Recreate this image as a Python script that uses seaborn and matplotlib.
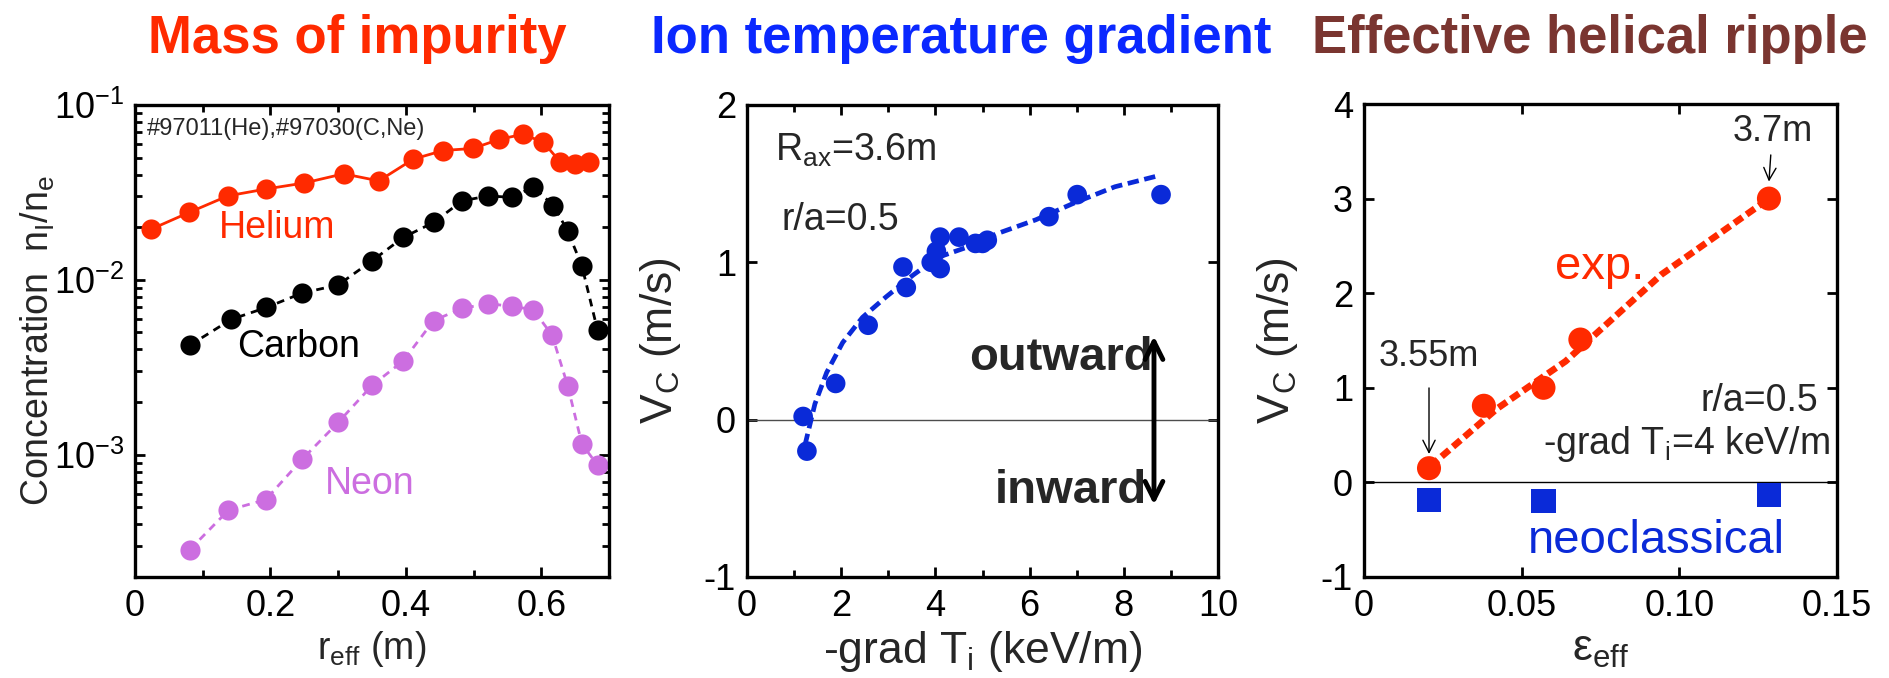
import matplotlib
matplotlib.use("Agg")
import matplotlib.pyplot as plt
import matplotlib.ticker as mticker
from matplotlib import font_manager
import numpy as np
import seaborn as sns

# -- Panel 1: impurity concentration profiles (log scale)
he_r = [0.024, 0.080, 0.137, 0.194, 0.250, 0.308, 0.360, 0.411, 0.455, 0.499,
        0.538, 0.573, 0.603, 0.628, 0.650, 0.671]
he_c = [0.0195, 0.0243, 0.0302, 0.0331, 0.0358, 0.0404, 0.0368, 0.0490, 0.0549,
        0.0564, 0.0636, 0.0680, 0.0612, 0.0472, 0.0458, 0.0470]
c_r = [0.081, 0.142, 0.194, 0.247, 0.300, 0.350, 0.396, 0.441, 0.483, 0.522,
       0.557, 0.588, 0.618, 0.639, 0.660, 0.683]
c_c = [0.00423, 0.00594, 0.00695, 0.00841, 0.00935, 0.01285, 0.01747, 0.0213,
       0.0283, 0.0302, 0.0296, 0.0340, 0.0266, 0.0190, 0.0120, 0.00516]
ne_r = [0.081, 0.138, 0.193, 0.247, 0.300, 0.350, 0.396, 0.441, 0.483, 0.522,
        0.557, 0.588, 0.616, 0.639, 0.660, 0.683]
ne_c = [2.87e-4, 4.82e-4, 5.54e-4, 9.44e-4, 1.53e-3, 2.49e-3, 3.44e-3, 5.85e-3,
        6.87e-3, 7.31e-3, 7.05e-3, 6.76e-3, 4.82e-3, 2.48e-3, 1.15e-3, 8.73e-4]

# -- Panel 2: V_C vs ion temperature gradient
gradti = [1.19, 1.27, 1.88, 2.57, 3.31, 3.38, 3.91, 4.02, 4.10, 4.10, 4.50,
          4.85, 5.00, 5.10, 6.41, 7.01, 8.79]
vc_grad = [0.02, -0.20, 0.23, 0.60, 0.97, 0.84, 1.00, 1.07, 1.16, 0.96, 1.16,
           1.12, 1.12, 1.14, 1.29, 1.43, 1.43]
fit_grad_x = [1.23, 1.44, 1.69, 2.03, 2.45, 2.95, 3.53, 4.04, 4.71, 5.29, 6.13,
              6.97, 7.81, 8.73]
fit_grad_y = [-0.16, 0.10, 0.30, 0.49, 0.65, 0.78, 0.92, 1.03, 1.10, 1.18, 1.27,
              1.38, 1.48, 1.55]

# -- Panel 3: V_C vs effective helical ripple
eps_exp = [0.0206, 0.0380, 0.0569, 0.0686, 0.1284]
vc_exp = [0.15, 0.81, 1.00, 1.51, 3.00]
fit_eps_x = [0.0210, 0.0422, 0.0639, 0.0944, 0.1280]
fit_eps_y = [0.17, 0.78, 1.28, 2.20, 2.99]
eps_neo = [0.0207, 0.0569, 0.1285]
vc_neo = [-0.19, -0.20, -0.13]

RED = "#ff2a00"
BLUE = "#0a2ad8"
VIOLET = "#cc6ee0"
BROWN = "#7a3530"

sns.set_theme(style="ticks")
plt.rcParams["font.family"] = ["Liberation Sans", "DejaVu Sans"]
plt.rcParams["mathtext.default"] = "regular"
plt.rcParams["axes.unicode_minus"] = False
plt.rcParams["axes.linewidth"] = 2.4
plt.rcParams["axes.edgecolor"] = "black"

# titles use a condensed bold face when one is available
installed = {f.name for f in font_manager.fontManager.ttflist}
if "Liberation Sans Narrow" in installed:
    title_font, title_size = ["Liberation Sans Narrow", "DejaVu Sans"], 44
else:
    title_font, title_size = ["Liberation Sans", "DejaVu Sans"], 38

fig = plt.figure(figsize=(18.89, 6.78), dpi=100)
ax1 = fig.add_axes([0.0715, 0.149, 0.2509, 0.6962])
ax2 = fig.add_axes([0.3955, 0.149, 0.2493, 0.6962])
ax3 = fig.add_axes([0.7221, 0.149, 0.2504, 0.6976])

for ax in (ax1, ax2, ax3):
    ax.tick_params(which="both", direction="in", top=True, right=True,
                   labelsize=26, colors="black", width=2)
    ax.tick_params(which="major", length=7)
    ax.tick_params(which="minor", length=5)
    ax.tick_params(axis="x", pad=9)
    ax.tick_params(axis="y", pad=8)

# ---- panel 1
ax1.set_yscale("log")
sns.lineplot(x=he_r, y=he_c, ax=ax1, color=RED, marker="o", markersize=14.5,
             markeredgewidth=0, lw=2, sort=False, estimator=None)
sns.lineplot(x=c_r, y=c_c, ax=ax1, color="black", marker="o", markersize=14.5,
             markeredgewidth=0, lw=2, linestyle=(0, (2.8, 2.2)), sort=False,
             estimator=None)
sns.lineplot(x=ne_r, y=ne_c, ax=ax1, color=VIOLET, marker="o", markersize=14.5,
             markeredgewidth=0, lw=2, linestyle=(0, (2.8, 2.2)), sort=False,
             estimator=None)
ax1.set_xlim(0, 0.7)
ax1.set_ylim(2e-4, 0.1)
ax1.xaxis.set_major_locator(mticker.FixedLocator([0, 0.2, 0.4, 0.6]))
ax1.xaxis.set_major_formatter(mticker.FixedFormatter(["0", "0.2", "0.4", "0.6"]))
ax1.xaxis.set_minor_locator(mticker.MultipleLocator(0.1))
ax1.yaxis.set_major_locator(mticker.FixedLocator([1e-3, 1e-2, 1e-1]))
ax1.yaxis.set_major_formatter(mticker.FuncFormatter(
    lambda v, p: r"10$^{\mathregular{%d}}$" % round(np.log10(v))))
ax1.yaxis.set_minor_locator(mticker.LogLocator(base=10, subs=np.arange(2, 10)))
ax1.yaxis.set_minor_formatter(mticker.NullFormatter())
ax1.set_xlabel(r"r$_{\mathregular{eff}}$ (m)", fontsize=27)
ax1.set_ylabel(r"Concentration  n$_{\mathregular{I}}$/n$_{\mathregular{e}}$", fontsize=27)
ax1.xaxis.set_label_coords(0.5, -0.11)
ax1.yaxis.set_label_coords(-0.165, 0.5)
ax1.text(0.025, 0.948, "#97011(He),#97030(C,Ne)", transform=ax1.transAxes,
         fontsize=17, ha="left", va="center")
ax1.text(0.1236, 0.0173, "Helium", color=RED, fontsize=27, ha="left", va="baseline")
ax1.text(0.151, 0.00362, "Carbon", color="black", fontsize=27, ha="left", va="baseline")
ax1.text(0.280, 6.0e-4, "Neon", color=VIOLET, fontsize=27, ha="left", va="baseline")

# ---- panel 2
ax2.axhline(0, color="0.3", lw=1, zorder=1)
sns.lineplot(x=fit_grad_x, y=fit_grad_y, ax=ax2, color=BLUE, lw=3.4,
             linestyle=(0, (2.4, 1.2)), sort=False, estimator=None)
sns.scatterplot(x=gradti, y=vc_grad, ax=ax2, color=BLUE, s=200,
                edgecolor="none", zorder=3)
ax2.set_xlim(0, 10)
ax2.set_ylim(-1, 2)
ax2.xaxis.set_major_locator(mticker.MultipleLocator(2))
ax2.xaxis.set_minor_locator(mticker.MultipleLocator(1))
ax2.yaxis.set_major_locator(mticker.MultipleLocator(1))
ax2.xaxis.set_major_formatter(mticker.FormatStrFormatter("%d"))
ax2.yaxis.set_major_formatter(mticker.FormatStrFormatter("%d"))
ax2.set_xlabel(r"-grad T$_{\mathregular{i}}$ (keV/m)", fontsize=32)
ax2.set_ylabel(r"V$_{\mathregular{C}}$ (m/s)", fontsize=32)
ax2.xaxis.set_label_coords(0.5, -0.11)
ax2.yaxis.set_label_coords(-0.136, 0.5)
ax2.text(0.60, 1.644, r"R$_{\mathregular{ax}}$=3.6m", fontsize=27, ha="left", va="baseline")
ax2.text(0.73, 1.205, "r/a=0.5", fontsize=27, ha="left", va="baseline")
ax2.text(4.71, 0.316, "outward", fontsize=34, fontweight="bold", ha="left", va="baseline")
ax2.text(5.25, -0.529, "inward", fontsize=34, fontweight="bold", ha="left", va="baseline")
ax2.annotate("", xy=(8.64, 0.53), xytext=(8.64, -0.54),
             arrowprops=dict(arrowstyle="<->", lw=3.5, color="black",
                             mutation_scale=32, shrinkA=0, shrinkB=0))

# ---- panel 3
ax3.axhline(0, color="black", lw=1, zorder=1)
sns.lineplot(x=fit_eps_x, y=fit_eps_y, ax=ax3, color=RED, lw=4.8,
             linestyle=(0, (1.5, 0.75)), sort=False, estimator=None)
sns.scatterplot(x=eps_exp, y=vc_exp, ax=ax3, color=RED, s=300,
                edgecolor="none", zorder=3)
sns.scatterplot(x=eps_neo, y=vc_neo, ax=ax3, color=BLUE, marker="s", s=300,
                edgecolor="none", zorder=3)
ax3.set_xlim(0, 0.15)
ax3.set_ylim(-1, 4)
ax3.xaxis.set_major_locator(mticker.FixedLocator([0, 0.05, 0.10, 0.15]))
ax3.xaxis.set_major_formatter(mticker.FixedFormatter(["0", "0.05", "0.10", "0.15"]))
ax3.yaxis.set_major_locator(mticker.MultipleLocator(1))
ax3.yaxis.set_major_formatter(mticker.FormatStrFormatter("%d"))
ax3.set_xlabel(r"ε$_{\mathregular{eff}}$", fontsize=32)
ax3.set_ylabel(r"V$_{\mathregular{C}}$ (m/s)", fontsize=32)
ax3.xaxis.set_label_coords(0.5, -0.11)
ax3.yaxis.set_label_coords(-0.135, 0.5)
ax3.text(0.0607, 2.15, "exp.", color=RED, fontsize=34, ha="left", va="baseline")
ax3.text(0.0518, -0.747, "neoclassical", color=BLUE, fontsize=34, ha="left", va="baseline")
ax3.text(0.1440, 0.755, "r/a=0.5", fontsize=27, ha="right", va="baseline")
ax3.text(0.1478, 0.296, r"-grad T$_{\mathregular{i}}$=4 keV/m", fontsize=27,
         ha="right", va="baseline")
ax3.annotate("3.55m", xy=(0.0206, 0.30), xytext=(0.0206, 1.235), fontsize=26,
             ha="center", va="baseline",
             arrowprops=dict(arrowstyle="->", lw=1, color="black",
                             mutation_scale=22, shrinkA=8, shrinkB=0))
ax3.annotate("3.7m", xy=(0.1284, 3.18), xytext=(0.1295, 3.61), fontsize=26,
             ha="center", va="baseline",
             arrowprops=dict(arrowstyle="->", lw=1, color="black",
                             mutation_scale=22, shrinkA=2, shrinkB=0))

# ---- panel titles
fig.text(357 / 1889, 1 - 53 / 678, "Mass of impurity", color=RED,
         fontsize=title_size, fontweight="bold", family=title_font,
         ha="center", va="baseline")
fig.text(961 / 1889, 1 - 53 / 678, "Ion temperature gradient", color="#0a28ff",
         fontsize=title_size, fontweight="bold", family=title_font,
         ha="center", va="baseline")
fig.text(1590 / 1889, 1 - 53 / 678, "Effective helical ripple", color=BROWN,
         fontsize=title_size, fontweight="bold", family=title_font,
         ha="center", va="baseline")

fig.savefig("out.png", dpi=100)
